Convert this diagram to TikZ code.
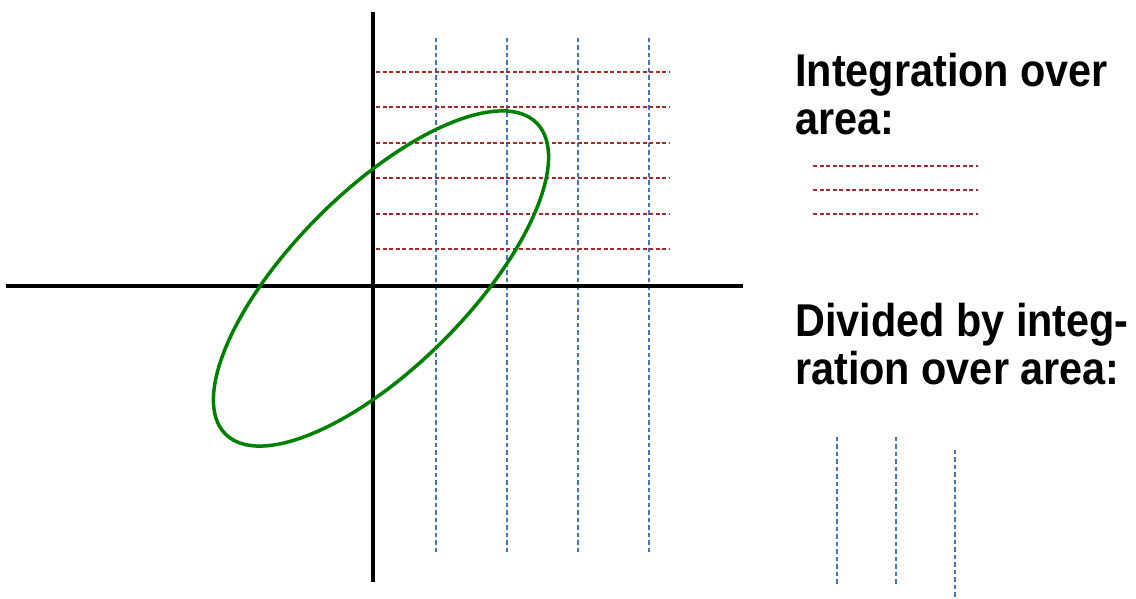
\documentclass[tikz,border=0pt]{standalone}
\usepackage{fontspec}
\newfontfamily\labfont{Liberation Sans}[FakeStretch=0.9]
\definecolor{gridblue}{RGB}{68,114,196}
\definecolor{gridred}{RGB}{165,42,42}
\definecolor{curvegreen}{RGB}{0,128,0}
\begin{document}
\begin{tikzpicture}[x=1pt,y=1pt,
  axisline/.style={line width=3.5pt,black},
  bluedash/.style={gridblue,line width=1.5pt,dash pattern=on 4.5pt off 3pt},
  reddash/.style={gridred,line width=1.2pt,dash pattern=on 4pt off 2.5pt},
  curve/.style={curvegreen,line width=3.5pt},
  lab/.style={inner sep=0pt,anchor=base west,align=left,
    font=\labfont\bfseries\fontsize{46}{47.6}\selectfont}]
\useasboundingbox (0,0) rectangle (1136,599);
% grid lines
\foreach \x/\n in {436/a,507/b,578/c,649/d}{
  \coordinate (vt\n) at (\x,561); \coordinate (vb\n) at (\x,44);
  \draw[bluedash] (vt\n) -- (vb\n);}
\foreach \y/\n in {527/a,492/b,456/c,421/d,385/e,350/f}{
  \coordinate (hl\n) at (376,\y); \coordinate (hr\n) at (670,\y);
  \draw[reddash] (hl\n) -- (hr\n);}
% axes
\coordinate (yt) at (373,587); \coordinate (yb) at (373,17);
\coordinate (xl) at (6,313); \coordinate (xr) at (743,313);
\draw[axisline] (yt) -- (yb);
\draw[axisline] (xl) -- (xr);
% ellipse
\coordinate (ec) at (381,320.5);
\draw[curve,rotate around={45:(ec)}] (ec) ellipse [x radius=220, y radius=88];
% legend
\node[lab] (t1) at (795,464.7) {Integration over\\area:};
\foreach \y/\n in {433/a,409/b,385/c}{
  \coordinate (ll\n) at (813,\y); \coordinate (lr\n) at (978,\y);
  \draw[reddash] (ll\n) -- (lr\n);}
\node[lab] (t2) at (795,214.7) {Divided by integ-\\ration over area:};
\coordinate (la1) at (837,162); \coordinate (lb1) at (837,12);
\coordinate (la2) at (896,162); \coordinate (lb2) at (896,12);
\coordinate (la3) at (955,149); \coordinate (lb3) at (955,1);
\draw[bluedash] (la1) -- (lb1);
\draw[bluedash] (la2) -- (lb2);
\draw[bluedash] (la3) -- (lb3);
\end{tikzpicture}
\end{document}
